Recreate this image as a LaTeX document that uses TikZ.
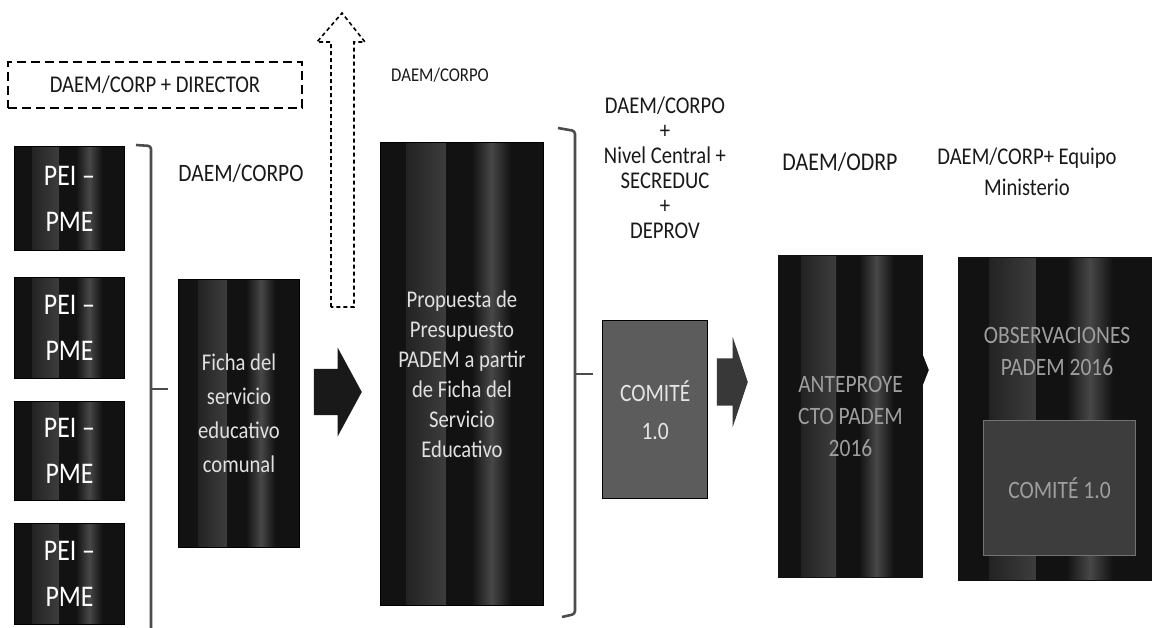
\documentclass[tikz,border=0pt]{standalone}
\usepackage{fontspec}
\setmainfont{Carlito}[FakeStretch=0.86]
\usetikzlibrary{shapes.arrows,calc}
\definecolor{boxdark}{gray}{0.07}
\definecolor{streak}{gray}{0.28}
\definecolor{comitegray}{gray}{0.36}
\definecolor{innergray}{gray}{0.24}
\definecolor{blurtext}{gray}{0.62}
\begin{document}
\begin{tikzpicture}[x=1pt,y=-1pt,
  lbl/.style={font=\fontsize{24}{26}\selectfont, align=center, inner sep=0pt, text=black!90},
  streaks/.style={path picture={
    \foreach \a/\b in {0.16/0.40,0.56/0.80}{
      \shade[left color=boxdark,right color=boxdark,middle color=streak]
        ($(path picture bounding box.south west)!\a!(path picture bounding box.south east)$) rectangle
        ($(path picture bounding box.north west)!\b!(path picture bounding box.north east)$);
    }}},
  dbox/.style={draw=black, fill=boxdark, text=white, anchor=north west, inner sep=0pt,
    align=center, line width=1pt, streaks},
  pei/.style={dbox, minimum width=110pt, minimum height=101pt, font=\fontsize{30}{46}\selectfont},
  blockarrow/.style={single arrow, fill=black!90, draw=none, inner xsep=0pt, anchor=tip},
  brace/.style={draw=black!70, line width=2.6pt, rounded corners=3pt},
  dashbox/.style={draw=black, dash pattern=on 9pt off 5pt, line width=1.6pt, inner sep=0pt}
]
\useasboundingbox (0,0) rectangle (1152,627);
\fill[white] (0,0) rectangle (1152,627);

% dashed top box and dashed up arrow
\node[dashbox, minimum width=294pt, minimum height=46pt, lbl] (dir) at (155,85) {DAEM/CORP + DIRECTOR};
\draw[black, line width=1.6pt, dash pattern=on 4pt off 3pt]
  (331,307) -- (331,42) -- (317,42) -- (342,13) -- (365,42) -- (354,42) -- (354,307) -- cycle;

% PEI - PME boxes
\node[pei, minimum height=104pt] (p1) at (14,146) {PEI –\\PME};
\node[pei] (p2) at (14,277) {PEI –\\PME};
\node[pei, minimum height=99pt] (p3) at (14,401) {PEI –\\PME};
\node[pei] (p4) at (14,523) {PEI –\\PME};

% left brace
\draw[brace] (136,145) -- (151,146) -- (151,632);
\draw[draw=black!70, line width=2.6pt] (151,389) -- (168,389);

\node[lbl, font=\fontsize{25}{27}\selectfont] (l1) at (241,173) {DAEM/CORPO};

% Ficha box
\node[dbox, minimum width=121pt, minimum height=268pt, text=white!88!black,
  font=\fontsize{24}{34}\selectfont] (ficha) at (178,279) {Ficha del\\servicio\\educativo\\comunal};

\node[blockarrow, inner ysep=23pt, single arrow head extend=21.5pt,
  single arrow tip angle=123, minimum height=48pt] (a1) at (362,392) {};

% Propuesta
\node[lbl, font=\fontsize{19.5}{22}\selectfont] (l2) at (440,75) {DAEM/CORPO};
\node[dbox, minimum width=163pt, minimum height=463pt, text=white!88!black,
  font=\fontsize{24}{30}\selectfont] (prop) at (380,142) {Propuesta de\\Presupuesto\\PADEM a partir\\de Ficha del\\Servicio\\Educativo};

% right brace
\draw[brace] (558,128) -- (575,131) -- (575,614) -- (562,617);
\draw[draw=black!70, line width=2.6pt] (575,374) -- (593,374);

\node[lbl, font=\fontsize{24}{25}\selectfont] (l3) at (665,168) {DAEM/CORPO\\+\\Nivel Central +\\SECREDUC\\+\\DEPROV};

% Comite
\node[draw=black, line width=1.4pt, fill=comitegray, text=white!90!black, anchor=north west,
  minimum width=105pt, minimum height=178pt, inner sep=0pt, align=center,
  font=\fontsize{25}{38}\selectfont] (com) at (602,320) {COMITÉ\\1.0};

\node[blockarrow, fill=black!78, inner ysep=23.5pt, single arrow head extend=21.5pt,
  single arrow tip angle=143, minimum height=31pt] (a2) at (748,382) {};

\node[lbl, font=\fontsize{25.5}{27}\selectfont] (l4) at (840,162) {DAEM/ODRP};

% Anteproyecto
\node[dbox, draw=boxdark, minimum width=144pt, minimum height=322pt, text=blurtext,
  font=\fontsize{25}{32}\selectfont] (ant) at (778,255) {ANTEPROYE\\CTO PADEM\\2016};

\node[blockarrow, fill=boxdark, inner ysep=20pt, single arrow head extend=13pt,
  single arrow tip angle=137, minimum height=26pt] (a3) at (929,370) {};

% Observaciones
\node[lbl, font=\fontsize{24}{31}\selectfont] (l5) at (1027,172) {DAEM/CORP+ Equipo\\Ministerio};
\node[dbox, draw=boxdark, minimum width=193pt, minimum height=323pt] (obs) at (958,257) {};
\node[text=blurtext, align=center, inner sep=0pt, font=\fontsize{25}{32}\selectfont] (obst) at (1057,351) {OBSERVACIONES\\PADEM 2016};
\node[draw=black!55, line width=1pt, fill=innergray, text=blurtext, anchor=north west,
  minimum width=152pt, minimum height=135pt, inner sep=0pt,
  font=\fontsize{25}{30}\selectfont] (com2) at (983,420) {COMITÉ 1.0};
\end{tikzpicture}
\end{document}
